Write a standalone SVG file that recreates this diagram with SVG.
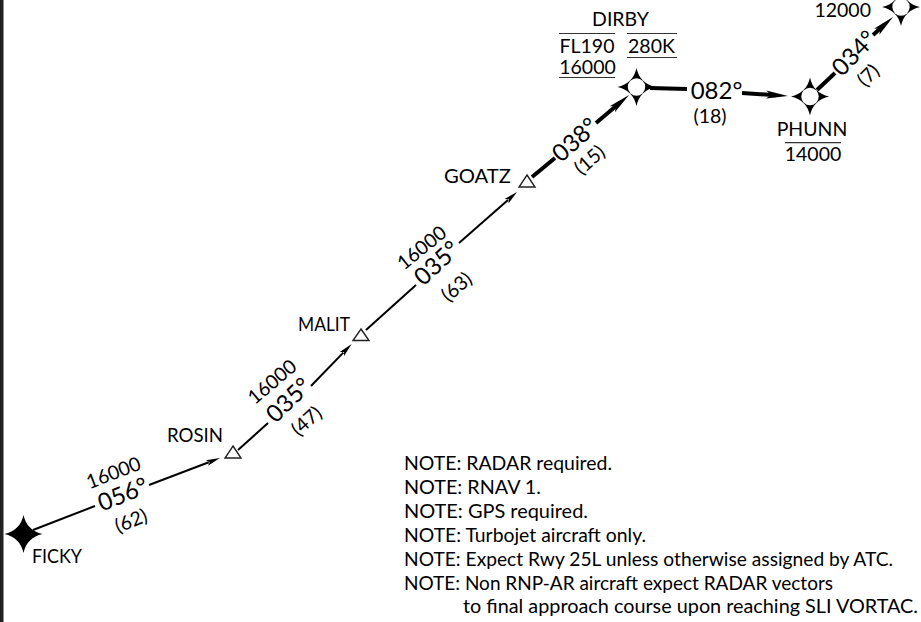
<svg xmlns="http://www.w3.org/2000/svg" width="921" height="622" viewBox="0 0 921 622">
<style>
text{font-family:"Lato","Liberation Sans",sans-serif;fill:#000;font-size:19.500px}
.m{text-anchor:middle}
.big{font-size:24px}
.thin{stroke:#000;stroke-width:2;fill:none}
.thick{stroke:#000;stroke-width:4;fill:none}
.rule{stroke:#333;stroke-width:1.200}
.tri{fill:#fff;stroke:#222;stroke-width:1.400}
.wp{fill:#000}
</style>
<defs>
<marker id="a" markerUnits="userSpaceOnUse" markerWidth="16" markerHeight="10" refX="2" refY="5" orient="auto" viewBox="0 0 16 10"><path d="M0 2L14 5L0 8L3 5Z" fill="#000"/></marker>
<marker id="b" markerUnits="userSpaceOnUse" markerWidth="24" markerHeight="10" refX="10" refY="5" orient="auto" viewBox="0 0 24 10"><path d="M0 1L22 5L0 9L5 5Z" fill="#000"/></marker>
<path id="star" d="M0-19C2-9 9-2 19 0C9 2 2 9 0 19C-2 9-9 2-19 0C-9-2-2-9 0-19Z"/>
</defs>
<rect x="0" y="0" width="3.500" height="622" fill="#222"/>
<g id="connectors">
<path class="thin" d="M33 530L95 506"/><path class="thin" marker-end="url(#a)" d="M149 485L208.800 462.300"/>
<path class="thin" d="M238 450L268 423"/><path class="thin" marker-end="url(#a)" d="M311 386L343.300 352.600"/>
<path class="thin" d="M366 330L416 285"/><path class="thin" marker-end="url(#a)" d="M459 243L508 199.900"/>
<path class="thick" d="M532 177L555 158"/><path class="thick" marker-end="url(#b)" d="M596 123L619.900 102.800"/>
<path class="thick" d="M650 88L687 89"/><path class="thick" marker-end="url(#b)" d="M742 93L776 95.200"/>
<path class="thick" d="M817 90L835 73"/><path class="thick" marker-end="url(#b)" d="M873 35L884.100 25"/>
</g>
<g id="FICKY"><use href="#star" x="23.500" y="534" class="wp"/><circle cx="23.500" cy="534" r="9" class="wp"/><text x="32" y="563" textLength="50" lengthAdjust="spacingAndGlyphs">FICKY</text></g>
<g id="ROSIN"><path class="tri" d="M233 446L241 458H225Z"/><text x="167" y="442" textLength="56" lengthAdjust="spacingAndGlyphs">ROSIN</text></g>
<g id="MALIT"><path class="tri" d="M361 329L369 340.500H353Z"/><text x="298" y="331" textLength="52" lengthAdjust="spacingAndGlyphs">MALIT</text></g>
<g id="GOATZ"><path class="tri" d="M527 175L535 187H519Z"/><text x="444" y="183" textLength="67" lengthAdjust="spacingAndGlyphs">GOATZ</text></g>
<g id="DIRBY"><use href="#star" x="636.500" y="87" class="wp"/><circle cx="636.500" cy="87" r="8.700" fill="#fff"/>
<text x="620.500" y="26" class="m">DIRBY</text>
<path class="rule" d="M559 33.500H615M627 33.500H677M627 57.500H677M559 77.500H615"/>
<text x="587" y="53" class="m">FL190</text><text x="651.500" y="53" class="m">280K</text><text x="587.500" y="74" class="m">16000</text></g>
<g id="PHUNN"><use href="#star" x="810" y="96.500" class="wp"/><circle cx="810" cy="96.500" r="8.700" fill="#fff"/>
<text x="812" y="136" class="m">PHUNN</text><path class="rule" d="M785 142.700H841"/><text x="813" y="161" class="m">14000</text></g>
<g id="top"><use href="#star" x="901" y="7" class="wp"/><circle cx="901" cy="7" r="8.700" fill="#fff"/><text x="871" y="17" text-anchor="end">12000</text></g>
<g id="labels">
<text class="m" transform="translate(116 479) rotate(-21)">16000</text>
<text class="m big" transform="translate(126 502) rotate(-22)">056°</text>
<text class="m" transform="translate(133.500 527) rotate(-22)">(62)</text>
<text class="m" transform="translate(276.500 387) rotate(-40)">16000</text>
<text class="m big" transform="translate(294.400 406) rotate(-44)">035°</text>
<text class="m" transform="translate(311 426) rotate(-42)">(47)</text>
<text class="m" transform="translate(426 253) rotate(-39)">16000</text>
<text class="m big" transform="translate(442.500 269) rotate(-43)">035°</text>
<text class="m" transform="translate(461 292) rotate(-41)">(63)</text>
<text class="m big" transform="translate(580.500 146) rotate(-42)">038°</text>
<text class="m" transform="translate(594 165) rotate(-41)">(15)</text>
<text class="m big" x="716.500" y="99">082°</text>
<text class="m" x="710" y="122.500">(18)</text>
<text class="m big" transform="translate(860 59) rotate(-46)">034°</text>
<text class="m" transform="translate(873 80) rotate(-45)">(7)</text>
</g>
<g id="notes">
<text x="404" y="470" textLength="208" lengthAdjust="spacingAndGlyphs">NOTE: RADAR required.</text>
<text x="404" y="494" textLength="137" lengthAdjust="spacingAndGlyphs">NOTE: RNAV 1.</text>
<text x="404" y="518" textLength="184" lengthAdjust="spacingAndGlyphs">NOTE: GPS required.</text>
<text x="404" y="542" textLength="242" lengthAdjust="spacingAndGlyphs">NOTE: Turbojet aircraft only.</text>
<text x="404" y="566" textLength="489" lengthAdjust="spacingAndGlyphs">NOTE: Expect Rwy 25L unless otherwise assigned by ATC.</text>
<text x="404" y="589.500" textLength="429" lengthAdjust="spacingAndGlyphs">NOTE: Non RNP-AR aircraft expect RADAR vectors</text>
<text x="463" y="613" textLength="455" lengthAdjust="spacingAndGlyphs">to final approach course upon reaching SLI VORTAC.</text>
</g>
</svg>
